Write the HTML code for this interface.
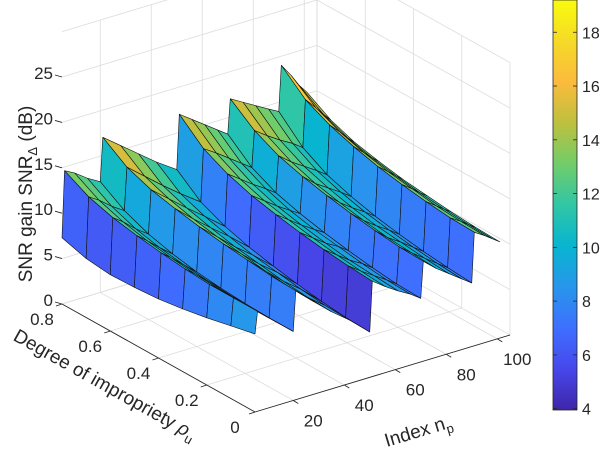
<!DOCTYPE html>
<html><head><meta charset="utf-8"><style>
html,body{margin:0;padding:0;background:#fff;}
svg{display:block;font-family:"Liberation Sans",Arial,sans-serif;}
</style></head><body>
<svg id="chart" width="600" height="460" viewBox="0 0 600 460" xmlns="http://www.w3.org/2000/svg">
<defs>
<linearGradient id="parulaGrad" x1="0" y1="1" x2="0" y2="0">
<stop offset="0" stop-color="rgb(62,38,168)"/><stop offset="0.1" stop-color="rgb(71,71,235)"/><stop offset="0.2" stop-color="rgb(62,111,255)"/><stop offset="0.3" stop-color="rgb(39,150,235)"/><stop offset="0.4" stop-color="rgb(8,181,208)"/><stop offset="0.5" stop-color="rgb(49,198,165)"/><stop offset="0.6" stop-color="rgb(113,205,105)"/><stop offset="0.7" stop-color="rgb(189,192,62)"/><stop offset="0.8" stop-color="rgb(252,187,61)"/><stop offset="0.9" stop-color="rgb(245,218,39)"/><stop offset="1" stop-color="rgb(249,251,14)"/>
</linearGradient>
</defs>
<g id="grid"></g>
<g id="axes"></g>
<g id="surface"></g>
<g id="colorbar">
<rect x="553" y="0" width="24" height="410" fill="url(#parulaGrad)" stroke="#262626" stroke-width="0.8"/>
</g>
<text transform="translate(32,194) rotate(-90)" text-anchor="middle" font-size="19" fill="#262626">SNR gain SNR<tspan font-size="13" dy="5">Δ</tspan><tspan dy="-5"> (dB)</tspan></text>
<text transform="translate(102,390) rotate(29.3)" text-anchor="middle" font-size="19" fill="#262626">Degree of impropriety <tspan font-style="italic">ρ</tspan><tspan font-size="13" dy="5">u</tspan></text>
<text transform="translate(420,437) rotate(-16.8)" text-anchor="middle" font-size="19" fill="#262626">Index n<tspan font-size="13" dy="5">p</tspan></text>
</svg>
<script>
const nIndex = [5, 6, 10, 15, 20, 21, 28, 35, 42, 50, 51, 56, 61, 66, 70, 71, 76, 81, 86, 90, 91, 95, 98, 101];
const rhoValues = [0, 0.1, 0.2, 0.3, 0.4, 0.5, 0.6, 0.7, 0.8];
// snrGain[i] = SNR gain (dB) at nIndex[i] for each rhoValues entry
const snrGain = [
[8.6,8.0,7.4,6.9,6.5,6.3,6.2,6.5,7.3],
[11.0,11.0,11.0,11.2,11.5,11.9,12.4,13.2,14.6],
[10.0,10.0,10.1,10.3,10.6,11.0,11.6,12.5,14.0],
[8.8,8.8,8.9,9.1,9.4,9.8,10.4,11.4,13.0],
[7.6,7.6,7.7,7.9,8.2,8.7,9.4,10.5,12.2],
[12.0,12.1,12.4,12.7,13.1,13.6,14.2,15.2,17.0],
[10.2,10.3,10.6,11.0,11.4,11.9,12.6,13.6,15.5],
[8.5,8.6,8.9,9.3,9.7,10.3,11.0,12.0,14.0],
[7.0,7.1,7.4,7.8,8.2,8.8,9.5,10.5,12.5],
[5.0,5.1,5.4,5.8,6.3,6.9,7.7,8.9,11.0],
[10.5,10.7,11.0,11.4,11.9,12.5,13.4,14.7,17.0],
[9.5,9.7,10.0,10.4,10.9,11.5,12.4,13.8,16.0],
[8.6,8.8,9.0,9.4,9.9,10.5,11.4,12.8,15.0],
[7.8,7.9,8.2,8.6,9.0,9.6,10.5,11.8,14.0],
[7.0,7.1,7.4,7.8,8.3,8.9,9.7,11.0,13.2],
[11.0,11.1,11.4,11.8,12.3,12.9,13.7,15.0,17.0],
[9.8,10.0,10.2,10.6,11.1,11.7,12.6,14.0,16.2],
[8.8,9.0,9.3,9.6,10.1,10.8,11.7,13.1,15.4],
[7.8,8.0,8.3,8.7,9.2,9.9,10.8,12.3,14.6],
[7.0,7.2,7.5,7.9,8.4,9.1,10.0,11.5,14.0],
[12.5,12.6,12.9,13.3,13.8,14.5,15.4,16.7,19.0],
[11.8,11.9,12.1,12.5,12.9,13.5,14.3,15.5,17.5],
[11.2,11.3,11.5,11.8,12.2,12.7,13.4,14.5,16.2],
[10.6,10.7,10.9,11.2,11.5,12.0,12.6,13.6,15.2]
];
const zTicks = [0, 5, 10, 15, 20, 25];
const zGridTicks = [0, 5, 10, 15, 20, 25, 30];
const nTicks = [20, 40, 60, 80, 100];
const rhoTicks = [0, 0.2, 0.4, 0.6, 0.8];
const rhoTickLabels = ["0", "0.2", "0.4", "0.6", "0.8"];
const cbTicks = [4, 6, 8, 10, 12, 14, 16, 18];

const NMIN = 5, NMAX = 105, RMIN = 0, RMAX = 0.8, CMIN = 3.95, CMAX = 19.2;
function px(n, r, z) { return 255 + 2.55 * (n - NMIN) - 241.25 * r; }
function py(n, r, z) { return 412 - 0.77 * (n - NMIN) - 135 * r - 9.08 * z; }
function cbY(v) { return 410 - (v - CMIN) / (CMAX - CMIN) * 410; }
const stops = [[62,38,168],[71,71,235],[62,111,255],[39,150,235],[8,181,208],[49,198,165],[113,205,105],[189,192,62],[252,187,61],[245,218,39],[249,251,14]];
function parula(v) {
  let t = (v - CMIN) / (CMAX - CMIN); t = Math.max(0, Math.min(1, t));
  const f = t * 10, i = Math.min(9, Math.floor(f)), u = f - i;
  const a = stops[i], b = stops[i + 1];
  return 'rgb(' + a.map((c, k) => Math.round(c + (b[k] - c) * u)).join(',') + ')';
}
const NS = 'http://www.w3.org/2000/svg';
function mk(tag, attrs, parent) {
  const e = document.createElementNS(NS, tag);
  for (const k in attrs) e.setAttribute(k, attrs[k]);
  parent.appendChild(e); return e;
}
const grid = document.getElementById('grid');
const axes = document.getElementById('axes');
const surf = document.getElementById('surface');
const cb = document.getElementById('colorbar');
const GC = '#dcdcdc';
function line(g, a, b, color, w) {
  return mk('line', {x1: a[0], y1: a[1], x2: b[0], y2: b[1], stroke: color, 'stroke-width': w}, g);
}
function P(n, r, z) { return [px(n, r, z), py(n, r, z)]; }
zGridTicks.forEach(z => {
  const l1 = line(grid, P(NMIN, RMAX, z), P(NMAX, RMAX, z), GC, 0.8);
  
  
  const l2 = line(grid, P(NMAX, RMAX, z), P(NMAX, RMIN, z), GC, 0.8);
  
  
});
nTicks.forEach(n => {
  const l1 = line(grid, P(n, RMAX, 0), P(n, RMAX, 30), GC, 0.8);
  
  
  const l2 = line(grid, P(n, RMIN, 0), P(n, RMAX, 0), GC, 0.8);
  
  
});
rhoTicks.forEach(r => {
  const l1 = line(grid, P(NMAX, r, 0), P(NMAX, r, 30), GC, 0.8);
  
  
  const l2 = line(grid, P(NMIN, r, 0), P(NMAX, r, 0), GC, 0.8);
  
  
});
const bc = line(grid, P(NMAX, RMAX, 0), P(NMAX, RMAX, 30), GC, 0.8);


const AC = '#262626';
const ra = line(axes, P(NMIN, RMAX, 0), P(NMIN, RMIN, 0), AC, 0.9);


const na = line(axes, P(NMIN, RMIN, 0), P(NMAX, RMIN, 0), AC, 0.9);


function txt(g, x, y, s, anchor, size) {
  const t = mk('text', {x: x, y: y, 'text-anchor': anchor, 'font-size': size, fill: '#262626'}, g);
  t.textContent = s; return t;
}
zTicks.forEach(z => {
  const p = P(NMIN, RMAX, z);
  const tk = line(axes, [p[0] - 7, p[1] - 2], [p[0], p[1]], AC, 0.9);
  
  
  const t = txt(axes, p[0] - 9, p[1] + 2, String(z), 'end', 17);
  
  
});
rhoTicks.forEach((r, i) => {
  const p = P(NMIN, r, 0);
  const tk = line(axes, p, [p[0] - 6, p[1] + 2], AC, 0.9);
  
  
  const t = txt(axes, p[0] - 20, p[1] + 21, rhoTickLabels[i], 'middle', 17);
  
  
});
nTicks.forEach(n => {
  const p = P(n, RMIN, 0);
  const tk = line(axes, p, [p[0] + 5, p[1] + 3], AC, 0.9);
  
  
  const t = txt(axes, p[0] + 20, p[1] + 26, String(n), 'middle', 17);
  
  
});
const cells = [];
for (let i = 0; i < nIndex.length - 1; i++) {
  for (let j = 0; j < rhoValues.length - 1; j++) {
    const c = [[i, j], [i + 1, j], [i + 1, j + 1], [i, j + 1]];
    const pts = c.map(([a, b]) => P(nIndex[a], rhoValues[b], snrGain[a][b]));
    const depth = 0.77 * (nIndex[i] + nIndex[i + 1]) / 2 + 135 * (rhoValues[j] + rhoValues[j + 1]) / 2;
    cells.push({pts: pts, depth: depth, v: snrGain[i][j]});
  }
}
cells.sort((a, b) => b.depth - a.depth);
cells.forEach(c => {
  const poly = mk('polygon', {points: c.pts.map(p => p[0].toFixed(2) + ',' + p[1].toFixed(2)).join(' '), fill: parula(c.v), stroke: '#111', 'stroke-width': 0.6, 'stroke-linejoin': 'round'}, surf);
  
  
});
cbTicks.forEach(v => {
  const y = cbY(v);
  const t1 = line(cb, [553, y], [557, y], AC, 0.8);
  
  
  const t2 = line(cb, [573, y], [577, y], AC, 0.8);
  
  
  const t = txt(cb, 582, y + 6, String(v), 'start', 16);
  
  
});
</script>
</body></html>
